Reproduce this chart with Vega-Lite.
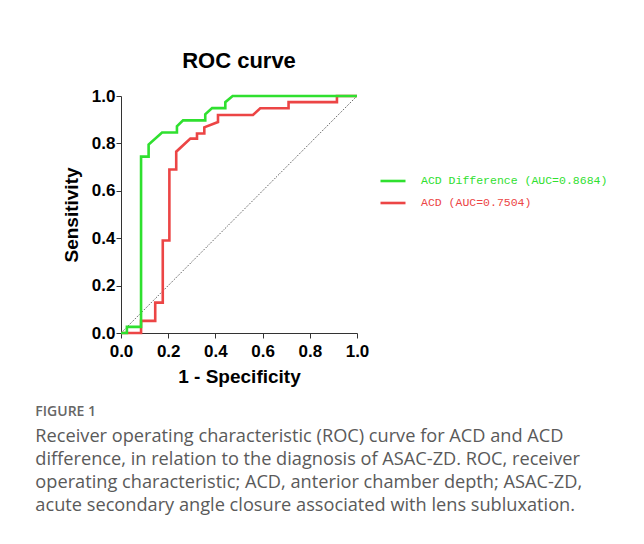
{
  "$schema": "https://vega.github.io/schema/vega-lite/v6.json",
  "background": "white",
  "padding": {"left": 35, "top": 50, "right": 5, "bottom": 5},
  "title": {
    "text": "FIGURE 1",
    "subtitle": [
      "Receiver operating characteristic (ROC) curve for ACD and ACD",
      "difference, in relation to the diagnosis of ASAC-ZD. ROC, receiver",
      "operating characteristic; ACD, anterior chamber depth; ASAC-ZD,",
      "acute secondary angle closure associated with lens subluxation."
    ],
    "orient": "bottom",
    "anchor": "start",
    "frame": "bounds",
    "dx": -27,
    "offset": 19,
    "font": "Open Sans",
    "fontSize": 14,
    "fontWeight": 600,
    "color": "#666666",
    "subtitleFont": "Open Sans",
    "subtitleFontSize": 18.2,
    "subtitleColor": "#5a5a5a",
    "subtitleLineHeight": 23,
    "subtitlePadding": 9
  },
  "config": {
    "view": {"stroke": null},
    "axis": {
      "labelFont": "Liberation Sans",
      "labelFontWeight": "bold",
      "labelFontSize": 17,
      "labelColor": "#000000",
      "titleFont": "Liberation Sans",
      "titleFontWeight": "bold",
      "titleFontSize": 19,
      "titleColor": "#000000",
      "grid": false,
      "domainColor": "#333333",
      "tickColor": "#333333",
      "tickSize": 5
    }
  },
  "vconcat": [
    {
      "width": 236,
      "height": 237,
      "title": {
        "text": "ROC curve",
        "font": "Liberation Sans",
        "fontSize": 22,
        "fontWeight": "bold",
        "color": "#000000",
        "anchor": "middle",
        "offset": 14
      },
      "layer": [
        {
          "data": {"values": [{"fpr": 0, "tpr": 0}, {"fpr": 1, "tpr": 1}]},
          "mark": {"type": "line", "color": "#000000", "strokeWidth": 0.8, "strokeDash": [1, 1.5]},
          "encoding": {
            "x": {"field": "fpr", "type": "quantitative"},
            "y": {"field": "tpr", "type": "quantitative"}
          }
        },
        {
          "data": {
            "values": [
              {"series": "ACD", "i": 0, "fpr": 0, "tpr": 0},
              {"series": "ACD", "i": 1, "fpr": 0.085, "tpr": 0},
              {"series": "ACD", "i": 2, "fpr": 0.085, "tpr": 0.051},
              {"series": "ACD", "i": 3, "fpr": 0.145, "tpr": 0.051},
              {"series": "ACD", "i": 4, "fpr": 0.145, "tpr": 0.128},
              {"series": "ACD", "i": 5, "fpr": 0.177, "tpr": 0.128},
              {"series": "ACD", "i": 6, "fpr": 0.177, "tpr": 0.39},
              {"series": "ACD", "i": 7, "fpr": 0.205, "tpr": 0.39},
              {"series": "ACD", "i": 8, "fpr": 0.205, "tpr": 0.69},
              {"series": "ACD", "i": 9, "fpr": 0.234, "tpr": 0.69},
              {"series": "ACD", "i": 10, "fpr": 0.234, "tpr": 0.765},
              {"series": "ACD", "i": 11, "fpr": 0.294, "tpr": 0.82},
              {"series": "ACD", "i": 12, "fpr": 0.322, "tpr": 0.82},
              {"series": "ACD", "i": 13, "fpr": 0.322, "tpr": 0.842},
              {"series": "ACD", "i": 14, "fpr": 0.353, "tpr": 0.842},
              {"series": "ACD", "i": 15, "fpr": 0.353, "tpr": 0.868},
              {"series": "ACD", "i": 16, "fpr": 0.411, "tpr": 0.89},
              {"series": "ACD", "i": 17, "fpr": 0.411, "tpr": 0.92},
              {"series": "ACD", "i": 18, "fpr": 0.559, "tpr": 0.92},
              {"series": "ACD", "i": 19, "fpr": 0.59, "tpr": 0.948},
              {"series": "ACD", "i": 20, "fpr": 0.71, "tpr": 0.948},
              {"series": "ACD", "i": 21, "fpr": 0.71, "tpr": 0.974},
              {"series": "ACD", "i": 22, "fpr": 0.915, "tpr": 0.974},
              {"series": "ACD", "i": 23, "fpr": 0.915, "tpr": 1},
              {"series": "ACD", "i": 24, "fpr": 1, "tpr": 1},
              {"series": "ACD Difference", "i": 0, "fpr": 0, "tpr": 0},
              {"series": "ACD Difference", "i": 1, "fpr": 0.025, "tpr": 0},
              {"series": "ACD Difference", "i": 2, "fpr": 0.025, "tpr": 0.026},
              {"series": "ACD Difference", "i": 3, "fpr": 0.085, "tpr": 0.026},
              {"series": "ACD Difference", "i": 4, "fpr": 0.085, "tpr": 0.744},
              {"series": "ACD Difference", "i": 5, "fpr": 0.117, "tpr": 0.744},
              {"series": "ACD Difference", "i": 6, "fpr": 0.117, "tpr": 0.795},
              {"series": "ACD Difference", "i": 7, "fpr": 0.174, "tpr": 0.846},
              {"series": "ACD Difference", "i": 8, "fpr": 0.237, "tpr": 0.846},
              {"series": "ACD Difference", "i": 9, "fpr": 0.237, "tpr": 0.872},
              {"series": "ACD Difference", "i": 10, "fpr": 0.263, "tpr": 0.897},
              {"series": "ACD Difference", "i": 11, "fpr": 0.357, "tpr": 0.897},
              {"series": "ACD Difference", "i": 12, "fpr": 0.357, "tpr": 0.923},
              {"series": "ACD Difference", "i": 13, "fpr": 0.386, "tpr": 0.949},
              {"series": "ACD Difference", "i": 14, "fpr": 0.442, "tpr": 0.949},
              {"series": "ACD Difference", "i": 15, "fpr": 0.442, "tpr": 0.974},
              {"series": "ACD Difference", "i": 16, "fpr": 0.473, "tpr": 1},
              {"series": "ACD Difference", "i": 17, "fpr": 1, "tpr": 1}
            ]
          },
          "mark": {"type": "line", "strokeWidth": 2.6, "interpolate": "linear"},
          "encoding": {
            "x": {
              "field": "fpr",
              "type": "quantitative",
              "title": "1 - Specificity",
              "scale": {"domain": [0, 1], "nice": false},
              "axis": {"values": [0, 0.2, 0.4, 0.6, 0.8, 1], "format": ".1f", "labelPadding": 5, "titlePadding": 8, "labelFlush": false}
            },
            "y": {
              "field": "tpr",
              "type": "quantitative",
              "title": "Sensitivity",
              "scale": {"domain": [0, 1], "nice": false},
              "axis": {"values": [0, 0.2, 0.4, 0.6, 0.8, 1], "format": ".1f", "labelPadding": 1, "titlePadding": 10, "labelFlush": false}
            },
            "order": {"field": "i", "type": "quantitative"},
            "color": {
              "field": "series",
              "type": "nominal",
              "scale": {"domain": ["ACD Difference", "ACD"], "range": ["#2fe02f", "#ec4545"]},
              "legend": {
                "orient": "none",
                "legendX": 258,
                "legendY": 71,
                "title": null,
                "symbolType": "stroke",
                "symbolSize": 625,
                "symbolStrokeWidth": 2.6,
                "labelFont": "Liberation Mono",
                "labelFontSize": 11.5,
                "labelOffset": 14,
                "labelLimit": 400,
                "rowPadding": 2,
                "labelExpr": "datum.label == 'ACD' ? 'ACD (AUC=0.7504)' : 'ACD Difference (AUC=0.8684)'",
                "encode": {"labels": {"update": {"fill": {"scale": "color", "field": "value"}}}}
              }
            }
          }
        }
      ]
    }
  ]
}
